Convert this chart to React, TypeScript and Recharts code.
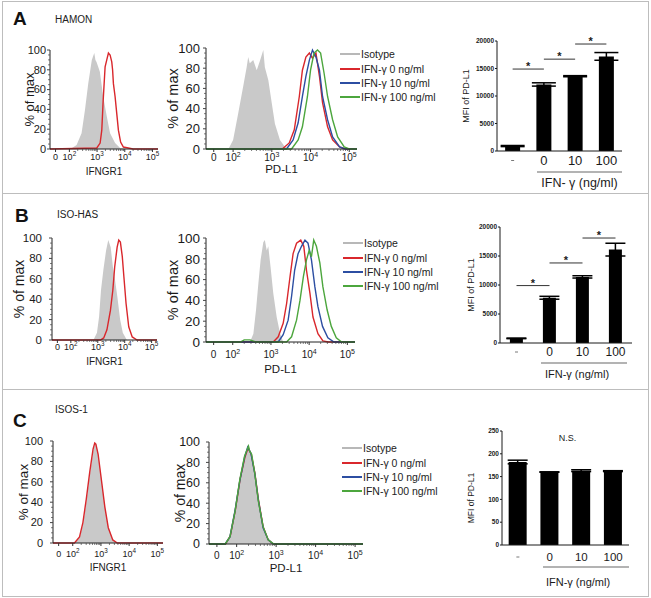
import {
  Area,
  Bar,
  BarChart,
  ComposedChart,
  ErrorBar,
  Legend,
  Line,
  ReferenceLine,
  XAxis,
  YAxis,
} from "recharts";

const FONT = "'Liberation Sans', Arial, Helvetica, sans-serif";
const RED = "#d9272c";
const BLUE = "#2c4ea2";
const GREEN = "#4ca63d";
const ISO_FILL = "#c9c9c9";
const INK = "#1a1a1a";

// flow axis in display units: 1.5 = "0", 2 = 10^2 ... 5 = 10^5
const flowMajorTicks = [1.5, 2, 3, 4, 5];
const flowMajorLabels = [["0", ""], ["10", "2"], ["10", "3"], ["10", "4"], ["10", "5"]];
const flowMinorTicks = [2, 3, 4].flatMap((d) => [2, 3, 4, 5, 6, 7, 8, 9].map((k) => d + Math.log10(k)));
const flowTicks = [...flowMajorTicks, ...flowMinorTicks].sort((a, b) => a - b);
const pctTicks = Array.from({ length: 21 }, (_, i) => i * 5);

const legendNames = ["Isotype", "IFN-γ 0 ng/ml", "IFN-γ 10 ng/ml", "IFN-γ 100 ng/ml"];
const legendColors = ["#b8b8b8", RED, BLUE, GREEN];

type Pt = [number, number];

// ---- A: HAMON ----
const hamonIfngrIso: Pt[] = [[1.3, 0], [2.08, 0.7], [2.26, 4], [2.44, 16], [2.56, 39], [2.68, 66], [2.81, 90], [2.86, 94], [2.9, 97], [2.94, 90], [2.98, 88], [3.04, 83], [3.1, 78], [3.22, 53], [3.35, 33], [3.47, 16], [3.65, 6], [3.83, 1], [4.1, 0], [5.2, 0]];
const hamonIfngrRed: Pt[] = [[1.3, 0], [2.99, 1], [3.11, 6], [3.17, 19], [3.22, 49], [3.29, 83], [3.35, 90], [3.41, 97], [3.47, 95], [3.53, 88], [3.56, 80], [3.59, 66], [3.65, 53], [3.71, 36], [3.77, 19], [3.85, 7], [3.95, 2], [4.3, 0], [5.2, 0]];
const hamonPdl1Iso: Pt[] = [[1.3, 0], [1.88, 0], [2.0, 9], [2.13, 35], [2.26, 62], [2.35, 81], [2.39, 91], [2.43, 85], [2.52, 88], [2.61, 78], [2.7, 88], [2.78, 98], [2.82, 81], [2.91, 68], [3.0, 45], [3.08, 25], [3.21, 9], [3.34, 2], [3.45, 0], [5.2, 0]];
const hamonPdl1Ifn0: Pt[] = [[1.3, 0], [3.27, 0], [3.45, 6], [3.58, 19], [3.71, 52], [3.79, 78], [3.88, 91], [3.97, 95], [4.05, 90], [4.14, 95], [4.23, 72], [4.31, 46], [4.44, 22], [4.57, 9], [4.75, 2], [4.9, 0], [5.2, 0]];
const hamonPdl1Ifn10: Pt[] = [[1.3, 0], [3.38, 0], [3.55, 9], [3.68, 26], [3.79, 52], [3.88, 72], [3.97, 88], [4.05, 98], [4.14, 91], [4.23, 78], [4.31, 52], [4.44, 29], [4.57, 12], [4.75, 2], [4.9, 0], [5.2, 0]];
const hamonPdl1Ifn100: Pt[] = [[1.3, 0], [3.51, 0], [3.68, 9], [3.79, 22], [3.92, 52], [4.0, 78], [4.09, 95], [4.18, 98], [4.26, 95], [4.35, 75], [4.44, 52], [4.57, 29], [4.7, 12], [4.87, 2], [5.0, 0], [5.2, 0]];
const hamonMfi = [900, 12100, 13600, 17200];
const hamonErr = [100, 300, 100, 700];
const hamonSig = [{ from: "-", to: "0", y: 14900 }, { from: "0", to: "10", y: 16700 }, { from: "10", to: "100", y: 19450 }];

// ---- B: ISO-HAS ----
const isoHasIfngrIso: Pt[] = [[1.3, 0], [2.84, 0], [2.97, 7], [3.05, 23], [3.12, 49], [3.21, 69], [3.31, 88], [3.39, 98], [3.48, 91], [3.56, 72], [3.64, 59], [3.73, 42], [3.83, 20], [3.93, 7], [4.08, 0], [5.2, 0]];
const isoHasIfngrRed: Pt[] = [[1.3, 0], [3.1, 0], [3.22, 2], [3.34, 10], [3.47, 29], [3.56, 49], [3.63, 72], [3.72, 91], [3.78, 98], [3.84, 96], [3.91, 82], [3.97, 62], [4.05, 36], [4.15, 13], [4.28, 3], [4.46, 0], [5.2, 0]];
const isoHasPdl1Iso: Pt[] = [[1.3, 0], [2.45, 0], [2.54, 8], [2.61, 31], [2.67, 56], [2.73, 79], [2.8, 96], [2.84, 98], [2.89, 88], [2.93, 92], [2.99, 72], [3.06, 47], [3.15, 24], [3.24, 8], [3.32, 0], [5.2, 0]];
const isoHasPdl1Ifn0: Pt[] = [[1.3, 0], [3.06, 0], [3.19, 5], [3.32, 18], [3.41, 37], [3.5, 63], [3.58, 85], [3.67, 95], [3.78, 98], [3.86, 92], [3.93, 69], [4.02, 47], [4.1, 24], [4.23, 8], [4.36, 1], [4.5, 0], [5.2, 0]];
const isoHasPdl1Ifn10: Pt[] = [[1.3, 0], [3.19, 0], [3.32, 7], [3.45, 21], [3.54, 44], [3.62, 69], [3.71, 85], [3.8, 92], [3.89, 98], [3.97, 95], [4.06, 79], [4.15, 53], [4.23, 34], [4.35, 15], [4.49, 4], [4.65, 0], [5.2, 0]];
const isoHasPdl1Ifn100: Pt[] = [[1.3, 0], [2.2, 0], [2.3, 2], [2.45, 2], [2.6, 0], [3.41, 0], [3.54, 5], [3.67, 21], [3.76, 40], [3.85, 63], [3.93, 79], [4.0, 88], [4.06, 82], [4.12, 98], [4.19, 92], [4.28, 76], [4.36, 53], [4.47, 31], [4.58, 15], [4.71, 4], [4.85, 0], [5.2, 0]];
const isoHasMfi = [800, 7800, 11400, 16100];
const isoHasErr = [50, 250, 200, 1100];
const isoHasSig = [{ from: "-", to: "0", y: 9900 }, { from: "0", to: "10", y: 13800 }, { from: "10", to: "100", y: 18100 }];

// ---- C: ISOS-1 ----
const isosIfngrIso: Pt[] = [[1.3, 0], [2.08, 0], [2.25, 6], [2.37, 19], [2.49, 42], [2.61, 68], [2.73, 91], [2.81, 99], [2.9, 88], [3.02, 62], [3.14, 36], [3.26, 16], [3.42, 3], [3.56, 0], [5.2, 0]];
const isosIfngrRed: Pt[] = [[1.3, 0], [2.06, 0], [2.24, 6], [2.36, 20], [2.48, 43], [2.6, 69], [2.72, 92], [2.78, 98], [2.82, 97], [2.9, 87], [3.02, 61], [3.14, 35], [3.26, 15], [3.42, 3], [3.58, 0], [5.2, 0]];
const isosPdl1Iso: Pt[] = [[1.3, 0], [1.71, 0], [1.83, 7], [1.96, 33], [2.08, 63], [2.21, 86], [2.3, 97], [2.38, 87], [2.46, 69], [2.55, 43], [2.67, 17], [2.8, 4], [2.93, 0], [5.2, 0]];
const isosPdl1Ifn0: Pt[] = [[1.3, 0], [1.72, 0], [1.84, 8], [1.97, 34], [2.09, 64], [2.21, 85], [2.29, 94], [2.37, 88], [2.46, 70], [2.55, 44], [2.67, 17], [2.8, 4], [2.93, 0], [5.2, 0]];
const isosPdl1Ifn10: Pt[] = [[1.3, 0], [1.71, 0], [1.83, 7], [1.96, 33], [2.08, 62], [2.2, 85], [2.28, 95], [2.36, 89], [2.46, 69], [2.55, 43], [2.67, 16], [2.8, 4], [2.93, 0], [5.2, 0]];
const isosPdl1Ifn100: Pt[] = [[1.3, 0], [1.71, 0], [1.83, 7], [1.96, 32], [2.08, 63], [2.2, 86], [2.3, 96], [2.33, 91], [2.38, 88], [2.46, 69], [2.55, 42], [2.67, 17], [2.8, 4], [2.94, 0], [5.2, 0]];
const isosMfi = [182, 160, 163, 162];
const isosErr = [4, 0.5, 2, 1];

const doseLabels = ["-", "0", "10", "100"];
const mfiTicksHigh = [0, 5000, 10000, 15000, 20000];
const mfiTicksLow = [0, 50, 100, 150, 200, 250];

const toRows = (pts: Pt[]) => pts.map(([x, y]) => ({ x, y }));

function FlowXTick(props: any) {
  const { x, y, payload, size, base } = props;
  const i = flowMajorTicks.indexOf(payload.value);
  if (i < 0) return <line x1={x} x2={x} y1={y} y2={y + 2} stroke="#444" strokeWidth={0.7} />;
  const [b, e] = flowMajorLabels[i];
  return (
    <g>
      <line x1={x} x2={x} y1={y} y2={y + 3} stroke="#333" />
      <text x={x} y={y + base} textAnchor="middle" fontSize={size} fill={INK}>
        {b}
        {e && (
          <tspan dy={-size * 0.4} fontSize={size * 0.7}>
            {e}
          </tspan>
        )}
      </text>
    </g>
  );
}

function PctTick(props: any) {
  const { x, y, payload, size, gap } = props;
  const major = payload.value % 20 === 0;
  return (
    <g>
      <line x1={x} x2={x - (major ? 3 : 2)} y1={y} y2={y} stroke="#444" strokeWidth={major ? 1 : 0.7} />
      {major && (
        <text x={x - gap} y={y} dy="0.35em" textAnchor="end" fontSize={size} fill={INK}>
          {payload.value}
        </text>
      )}
    </g>
  );
}

function YTitle(props: any) {
  const { viewBox, text, size, dist, dy = 0 } = props;
  const cx = viewBox.x + viewBox.width - dist;
  const cy = viewBox.y + viewBox.height / 2 + dy;
  return (
    <text x={cx} y={cy} transform={`rotate(-90 ${cx} ${cy})`} textAnchor="middle" dy="0.35em" fontSize={size} fill={INK}>
      {text}
    </text>
  );
}

function XTitle(props: any) {
  const { viewBox, text, size, base } = props;
  return (
    <text x={viewBox.x + viewBox.width / 2} y={viewBox.y + base} textAnchor="middle" fontSize={size} fill={INK}>
      {text}
    </text>
  );
}

function DoseLegend({ size }: { size: number }) {
  return (
    <div style={{ fontSize: size, color: "#222", fontFamily: FONT }}>
      {legendNames.map((n, i) => (
        <div key={n} style={{ display: "flex", alignItems: "center", height: 14.4, whiteSpace: "nowrap" }}>
          <span style={{ display: "inline-block", width: 20, height: 2, background: legendColors[i], marginRight: 1 }} />
          {n}
        </div>
      ))}
    </div>
  );
}

interface HistProps {
  left: number;
  top: number;
  w: number;
  h: number;
  iso: Pt[];
  lines: { pts: Pt[]; color: string }[];
  xLabel: string;
  yTick: number;
  yGap: number;
  yLabel: number;
  yDist: number;
  xTick: number;
  xTickBase: number;
  xLabelSize: number;
  xLabelBase: number;
  legendAt?: { x: number; y: number };
}

function FlowHist(p: HistProps) {
  const AX = 60;
  const TOP = 6;
  const BOTTOM = 40;
  const right = p.legendAt ? p.legendAt.x - (p.left + p.w) + 100 : 6;
  const chartLeft = p.left - AX;
  return (
    <div style={{ position: "absolute", left: chartLeft, top: p.top - TOP }}>
      <ComposedChart width={AX + p.w + right} height={TOP + p.h + BOTTOM} margin={{ top: TOP, right, left: 0, bottom: 0 }}>
        <XAxis
          type="number"
          dataKey="x"
          domain={[1.3, 5.2]}
          allowDataOverflow
          ticks={flowTicks}
          interval={0}
          height={BOTTOM}
          tickSize={0}
          tickMargin={0}
          tickLine={false}
          axisLine={{ stroke: "#222" }}
          tick={(t: any) => <FlowXTick {...t} size={p.xTick} base={p.xTickBase} />}
          label={<XTitle text={p.xLabel} size={p.xLabelSize} base={p.xLabelBase} />}
        />
        <YAxis
          type="number"
          domain={[0, 100]}
          ticks={pctTicks}
          interval={0}
          width={AX}
          tickSize={0}
          tickMargin={0}
          tickLine={false}
          axisLine={{ stroke: "#222" }}
          tick={(t: any) => <PctTick {...t} size={p.yTick} gap={p.yGap} />}
          label={<YTitle text="% of max" size={p.yLabel} dist={p.yDist} />}
        />
        <Area data={toRows(p.iso)} dataKey="y" type="linear" stroke="none" fill={ISO_FILL} fillOpacity={1} isAnimationActive={false} />
        {p.lines.map((l, i) => (
          <Line key={i} data={toRows(l.pts)} dataKey="y" type="linear" stroke={l.color} strokeWidth={1.4} dot={false} isAnimationActive={false} />
        ))}
        {p.legendAt && (
          <Legend
            layout="horizontal"
            verticalAlign="middle"
            align="center"
            wrapperStyle={{ left: p.legendAt.x - chartLeft, top: p.legendAt.y - (p.top - TOP), width: 110 }}
            content={() => <DoseLegend size={10.5} />}
          />
        )}
      </ComposedChart>
    </div>
  );
}

function MfiTick(props: any) {
  const { x, y, payload } = props;
  return (
    <g>
      <line x1={x} x2={x - 2} y1={y} y2={y} stroke={INK} />
      <text x={x - 3} y={y} dy="0.35em" textAnchor="end" fontSize={6.5} fontWeight="bold" fill={INK}>
        {payload.value}
      </text>
    </g>
  );
}

function DoseTick(props: any) {
  const { x, y, payload, size, base } = props;
  if (payload.value === "-")
    return <line x1={x - 1.5} x2={x + 1.5} y1={y + base - 4} y2={y + base - 4} stroke="#555" strokeWidth={0.8} />;
  return (
    <text x={x} y={y + base} textAnchor="middle" fontSize={size} fill={INK}>
      {payload.value}
    </text>
  );
}

function DoseTitle(props: any) {
  const { viewBox, text, size, lineDy, textBase, from, endInset, textDx } = props;
  const x1 = viewBox.x + from;
  const x2 = viewBox.x + viewBox.width - endInset;
  return (
    <g>
      <line x1={x1} x2={x2} y1={viewBox.y + lineDy} y2={viewBox.y + lineDy} stroke="#9a9a9a" strokeWidth={1.5} />
      <text x={(x1 + x2) / 2 + textDx} y={viewBox.y + textBase} textAnchor="middle" fontSize={size} fill={INK}>
        {text}
      </text>
    </g>
  );
}

function StarLabel(props: any) {
  const { viewBox } = props;
  return (
    <text x={viewBox.x + viewBox.width / 2} y={viewBox.y + 1} textAnchor="middle" fontSize={11} fontWeight="bold" fill={INK}>
      *
    </text>
  );
}

function NsLabel(props: any) {
  const { viewBox } = props;
  return (
    <text x={viewBox.x + viewBox.width / 2 + 2} y={viewBox.y} dy="0.35em" textAnchor="middle" fontSize={9} fill={INK}>
      N.S.
    </text>
  );
}

interface BarProps {
  left: number;
  top: number;
  w: number;
  h: number;
  values: number[];
  errs: number[];
  yMax: number;
  yTicks: number[];
  gap: string;
  cap: number;
  sigs?: { from: string; to: string; y: number }[];
  nsAt?: number;
  yLabel: number;
  yDist: number;
  yDy: number;
  xTick: number;
  xTickBase: number;
  title: string;
  titleSize: number;
  lineDy: number;
  textBase: number;
  textDx: number;
  lineFrom: number;
  lineInset: number;
}

function MfiBars(p: BarProps) {
  const AX = 50;
  const TOP = 6;
  const BOTTOM = 50;
  const RIGHT = 6;
  const rows = doseLabels.map((d, i) => ({ dose: d, mfi: p.values[i], err: p.errs[i] }));
  return (
    <div style={{ position: "absolute", left: p.left - AX, top: p.top - TOP }}>
      <BarChart
        width={AX + p.w + RIGHT}
        height={TOP + p.h + BOTTOM}
        data={rows}
        margin={{ top: TOP, right: RIGHT, left: 0, bottom: 0 }}
        barCategoryGap={p.gap}
      >
        <XAxis
          dataKey="dose"
          height={BOTTOM}
          tickSize={0}
          tickMargin={0}
          tickLine={false}
          interval={0}
          axisLine={{ stroke: INK }}
          tick={(t: any) => <DoseTick {...t} size={p.xTick} base={p.xTickBase} />}
          label={
            <DoseTitle
              text={p.title}
              size={p.titleSize}
              lineDy={p.lineDy}
              textBase={p.textBase}
              textDx={p.textDx}
              from={p.lineFrom}
              endInset={p.lineInset}
            />
          }
        />
        <YAxis
          type="number"
          domain={[0, p.yMax]}
          ticks={p.yTicks}
          interval={0}
          width={AX}
          tickSize={0}
          tickMargin={0}
          tickLine={false}
          axisLine={{ stroke: INK }}
          tick={(t: any) => <MfiTick {...t} />}
          label={<YTitle text="MFI of PD-L1" size={p.yLabel} dist={p.yDist} dy={p.yDy} />}
        />
        <Bar dataKey="mfi" fill="#000" isAnimationActive={false}>
          <ErrorBar dataKey="err" width={p.cap} stroke="#000" strokeWidth={1.5} direction="y" />
        </Bar>
        {(p.sigs ?? []).map((s, i) => (
          <ReferenceLine
            key={i}
            segment={[
              { x: s.from, y: s.y },
              { x: s.to, y: s.y },
            ]}
            stroke="#333"
            strokeWidth={1}
            label={<StarLabel />}
          />
        ))}
        {p.nsAt !== undefined && <ReferenceLine y={p.nsAt} stroke="none" label={<NsLabel />} />}
      </BarChart>
    </div>
  );
}

function PanelTag({ letter, name, x, y, nameX, nameY }: { letter: string; name: string; x: number; y: number; nameX: number; nameY: number }) {
  return (
    <>
      <div style={{ position: "absolute", left: x, top: y, fontSize: 19, fontWeight: "bold", lineHeight: 1, color: "#111" }}>{letter}</div>
      <div style={{ position: "absolute", left: nameX, top: nameY, fontSize: 10, lineHeight: 1, color: "#222" }}>{name}</div>
    </>
  );
}

export default function App() {
  return (
    <div style={{ position: "relative", width: 651, height: 598, background: "#fff", fontFamily: FONT, overflow: "hidden" }}>
      <style>{"body{margin:0}"}</style>
      <div style={{ position: "absolute", left: 2, top: 1, width: 647, height: 596, border: "1px solid #bdbdbd", boxSizing: "border-box" }} />
      <div style={{ position: "absolute", left: 2, top: 193, width: 647, height: 1, background: "#bdbdbd" }} />
      <div style={{ position: "absolute", left: 2, top: 389, width: 647, height: 1, background: "#bdbdbd" }} />

      <PanelTag letter="A" name="HAMON" x={13} y={9} nameX={55} nameY={15} />
      <PanelTag letter="B" name="ISO-HAS" x={15} y={206} nameX={57} nameY={210} />
      <PanelTag letter="C" name="ISOS-1" x={13} y={411} nameX={55} nameY={405} />

      <FlowHist
        left={50} top={50} w={108} h={99}
        iso={hamonIfngrIso} lines={[{ pts: hamonIfngrRed, color: RED }]}
        xLabel="IFNGR1" yTick={11} yGap={4} yLabel={13} yDist={21}
        xTick={9} xTickBase={11} xLabelSize={10} xLabelBase={26}
      />
      <FlowHist
        left={206} top={48} w={151} h={101}
        iso={hamonPdl1Iso}
        lines={[{ pts: hamonPdl1Ifn0, color: RED }, { pts: hamonPdl1Ifn10, color: BLUE }, { pts: hamonPdl1Ifn100, color: GREEN }]}
        xLabel="PD-L1" yTick={13} yGap={6} yLabel={14.5} yDist={33}
        xTick={10} xTickBase={11.5} xLabelSize={11.5} xLabelBase={24}
        legendAt={{ x: 340, y: 47 }}
      />
      <MfiBars
        left={497} top={41} w={125} h={110}
        values={hamonMfi} errs={hamonErr} yMax={20000} yTicks={mfiTicksHigh}
        gap="26%" cap={12} sigs={hamonSig}
        yLabel={9} yDist={31} yDy={0}
        xTick={13} xTickBase={13.5}
        title="IFN- γ (ng/ml)" titleSize={12.5} lineDy={21} textBase={36} textDx={0} lineFrom={40} lineInset={0}
      />

      <FlowHist
        left={52} top={238} w={105} h={102}
        iso={isoHasIfngrIso} lines={[{ pts: isoHasIfngrRed, color: RED }]}
        xLabel="IFNGR1" yTick={11.5} yGap={10} yLabel={14} yDist={33}
        xTick={9} xTickBase={10} xLabelSize={10} xLabelBase={25}
      />
      <FlowHist
        left={206} top={238} w={149} h={104}
        iso={isoHasPdl1Iso}
        lines={[{ pts: isoHasPdl1Ifn0, color: RED }, { pts: isoHasPdl1Ifn10, color: BLUE }, { pts: isoHasPdl1Ifn100, color: GREEN }]}
        xLabel="PD-L1" yTick={13.5} yGap={6} yLabel={14.5} yDist={33}
        xTick={10} xTickBase={15.5} xLabelSize={11.5} xLabelBase={31}
        legendAt={{ x: 343, y: 236 }}
      />
      <MfiBars
        left={500} top={227} w={132} h={116}
        values={isoHasMfi} errs={isoHasErr} yMax={20000} yTicks={mfiTicksHigh}
        gap="30%" cap={10} sigs={isoHasSig}
        yLabel={9} yDist={29} yDy={0}
        xTick={12} xTickBase={13}
        title="IFN-γ (ng/ml)" titleSize={11} lineDy={20} textBase={35} textDx={-7} lineFrom={41} lineInset={5}
      />

      <FlowHist
        left={53} top={441} w={110} h={102}
        iso={isosIfngrIso} lines={[{ pts: isosIfngrRed, color: RED }]}
        xLabel="IFNGR1" yTick={11} yGap={10} yLabel={13.5} yDist={30}
        xTick={9} xTickBase={14} xLabelSize={10} xLabelBase={28}
      />
      <FlowHist
        left={209} top={442} w={154} h={102}
        iso={isosPdl1Iso}
        lines={[{ pts: isosPdl1Ifn0, color: RED }, { pts: isosPdl1Ifn10, color: BLUE }, { pts: isosPdl1Ifn100, color: GREEN }]}
        xLabel="PD-L1" yTick={12.5} yGap={9} yLabel={14} yDist={29}
        xTick={10} xTickBase={14.5} xLabelSize={11.5} xLabelBase={28}
        legendAt={{ x: 342, y: 441 }}
      />
      <MfiBars
        left={502} top={431} w={127} h={114}
        values={isosMfi} errs={isosErr} yMax={250} yTicks={mfiTicksLow}
        gap="21%" cap={10} nsAt={235}
        yLabel={8.5} yDist={31} yDy={10}
        xTick={11.5} xTickBase={16}
        title="IFN-γ (ng/ml)" titleSize={11} lineDy={22} textBase={41} textDx={-8} lineFrom={41} lineInset={0}
      />
    </div>
  );
}
